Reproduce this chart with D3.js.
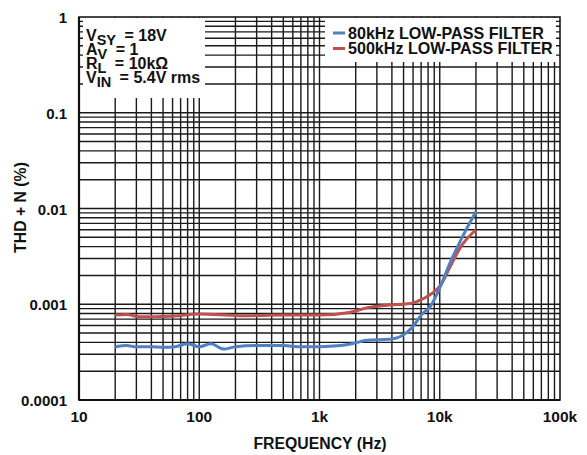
<!DOCTYPE html>
<html><head><meta charset="utf-8">
<script src="https://cdn.jsdelivr.net/npm/d3@7"></script>
<style>body{margin:0;background:#fff}svg text{font-family:"Liberation Sans",Arial,sans-serif;font-weight:bold;fill:#111}</style>
</head><body><svg id="c" width="587" height="455"></svg>
<script>
const xTicks = [10, 100, 1000, 10000, 100000];
const xTickLabels = ["10", "100", "1k", "10k", "100k"];
const yTicks = [1, 0.1, 0.01, 0.001, 0.0001];
const yTickLabels = ["1", "0.1", "0.01", "0.001", "0.0001"];
const seriesNames = ["80kHz LOW-PASS FILTER", "500kHz LOW-PASS FILTER"];
const seriesColors = ["#4f81c2", "#c0504d"];
const freq80 = [20,25,30,40,50,63,80,100,125,160,200,300,500,700,1000,1500,1900,2500,3800,5000,5800,7200,8300,10400,12000,15000,20000];
const thd80  = [0.00036,0.00037,0.00036,0.00036,0.000355,0.00036,0.000387,0.00036,0.000387,0.00034,0.00036,0.00037,0.00037,0.00036,0.00036,0.00037,0.00039,0.00042,0.00043,0.00048,0.00056,0.0008,0.00094,0.00166,0.0026,0.0047,0.0093];
const freq500 = [20,25,32,57,100,218,500,1000,1770,2500,3800,5700,6800,7800,10400,12000,15000,20000];
const thd500  = [0.00077,0.00078,0.00074,0.00075,0.00079,0.00076,0.00077,0.00077,0.00082,0.00092,0.00098,0.00102,0.0011,0.0012,0.00166,0.00237,0.0040,0.006];
const conditions = [["V","SY"," = 18V"],["A","V"," = 1"],["R","L"," = 10kΩ"],["V","IN"," = 5.4V rms"]];

const svg = d3.select("#c");
const L = 79, R = 560, T = 17, B = 400;
const x = d3.scaleLog().domain([10, 100000]).range([L, R]);
const y = d3.scaleLog().domain([0.0001, 1]).range([B, T]);

// grid
const g = svg.append("g");
const xg = [], yg = [];
for (let d = 10; d < 100000; d *= 10) for (let k = 1; k <= 9; k++) if (!(d===10&&k===1)) xg.push(d*k);
for (let d = 0.0001; d < 1; d *= 10) for (let k = 1; k <= 9; k++) if (k>1 || d>0.00011) yg.push(d*k);
g.selectAll(".vx").data(xg).enter().append("line")
  .attr("x1", d => x(d)).attr("x2", d => x(d)).attr("y1", T).attr("y2", B)
  .attr("stroke", "#1a1a1a").attr("stroke-width", 1.4);
g.selectAll(".hy").data(yg).enter().append("line")
  .attr("y1", d => y(d)).attr("y2", d => y(d)).attr("x1", L).attr("x2", R)
  .attr("stroke", "#1a1a1a").attr("stroke-width", 1.4);

// boxes
svg.append("rect").attr("x", L+4).attr("y", T+1).attr("width", 205-L-4).attr("height", 98-T-1).attr("fill", "#fff");
svg.append("rect").attr("x", 325).attr("y", T+1).attr("width", R-325-4).attr("height", 62-T-1).attr("fill", "#fff");

// frame
svg.append("rect").attr("x", L).attr("y", T).attr("width", R-L).attr("height", B-T)
  .attr("fill", "none").attr("stroke", "#1a1a1a").attr("stroke-width", 1.6);
svg.append("line").attr("x1", L).attr("x2", L).attr("y1", T).attr("y2", B).attr("stroke", "#111").attr("stroke-width", 2.2);
svg.append("line").attr("x1", L).attr("x2", R).attr("y1", B).attr("y2", B).attr("stroke", "#111").attr("stroke-width", 2.2);

// tick labels
svg.selectAll(".xl").data(xTicks).enter().append("text")
  .attr("x", d => x(d)).attr("y", 422).attr("text-anchor", "middle").attr("font-size", 15.5)
  .text((d, i) => xTickLabels[i]);
svg.selectAll(".yl").data(yTicks).enter().append("text")
  .attr("x", 67).attr("y", d => y(d) + 6).attr("text-anchor", "end").attr("font-size", 15)
  .text((d, i) => yTickLabels[i]);

svg.append("text").attr("x", 320).attr("y", 449).attr("text-anchor", "middle").attr("font-size", 15.8).text("FREQUENCY (Hz)");
svg.append("text").attr("transform", "translate(26,207.5) rotate(-90)").attr("text-anchor", "middle").attr("font-size", 15.8).text("THD + N (%)");

// conditions
conditions.forEach((c, i) => {
  const t = svg.append("text").attr("x", 86).attr("y", 41 + i*14).attr("font-size", 16);
  t.append("tspan").text(c[0]);
  t.append("tspan").attr("dy", 4).attr("font-size", 14.5).text(c[1]);
  t.append("tspan").attr("dy", -4).attr("dx", 4).text(c[2]);
});

// legend
seriesNames.forEach((n, i) => {
  const yy = 33 + i*15.5;
  svg.append("line").attr("x1", 333).attr("x2", 345).attr("y1", yy).attr("y2", yy)
    .attr("stroke", seriesColors[i]).attr("stroke-width", 3);
  svg.append("text").attr("x", 348).attr("y", 38.5 + i*15).attr("font-size", 16.1).text(n);
});

// curves
const line = d3.line().x(d => x(d[0])).y(d => y(d[1])).curve(d3.curveMonotoneX);
svg.append("path").datum(freq500.map((f, i) => [f, thd500[i]])).attr("d", line)
  .attr("fill", "none").attr("stroke", seriesColors[1]).attr("stroke-width", 3);
svg.append("path").datum(freq80.map((f, i) => [f, thd80[i]])).attr("d", line)
  .attr("fill", "none").attr("stroke", seriesColors[0]).attr("stroke-width", 3);
</script></body></html>
